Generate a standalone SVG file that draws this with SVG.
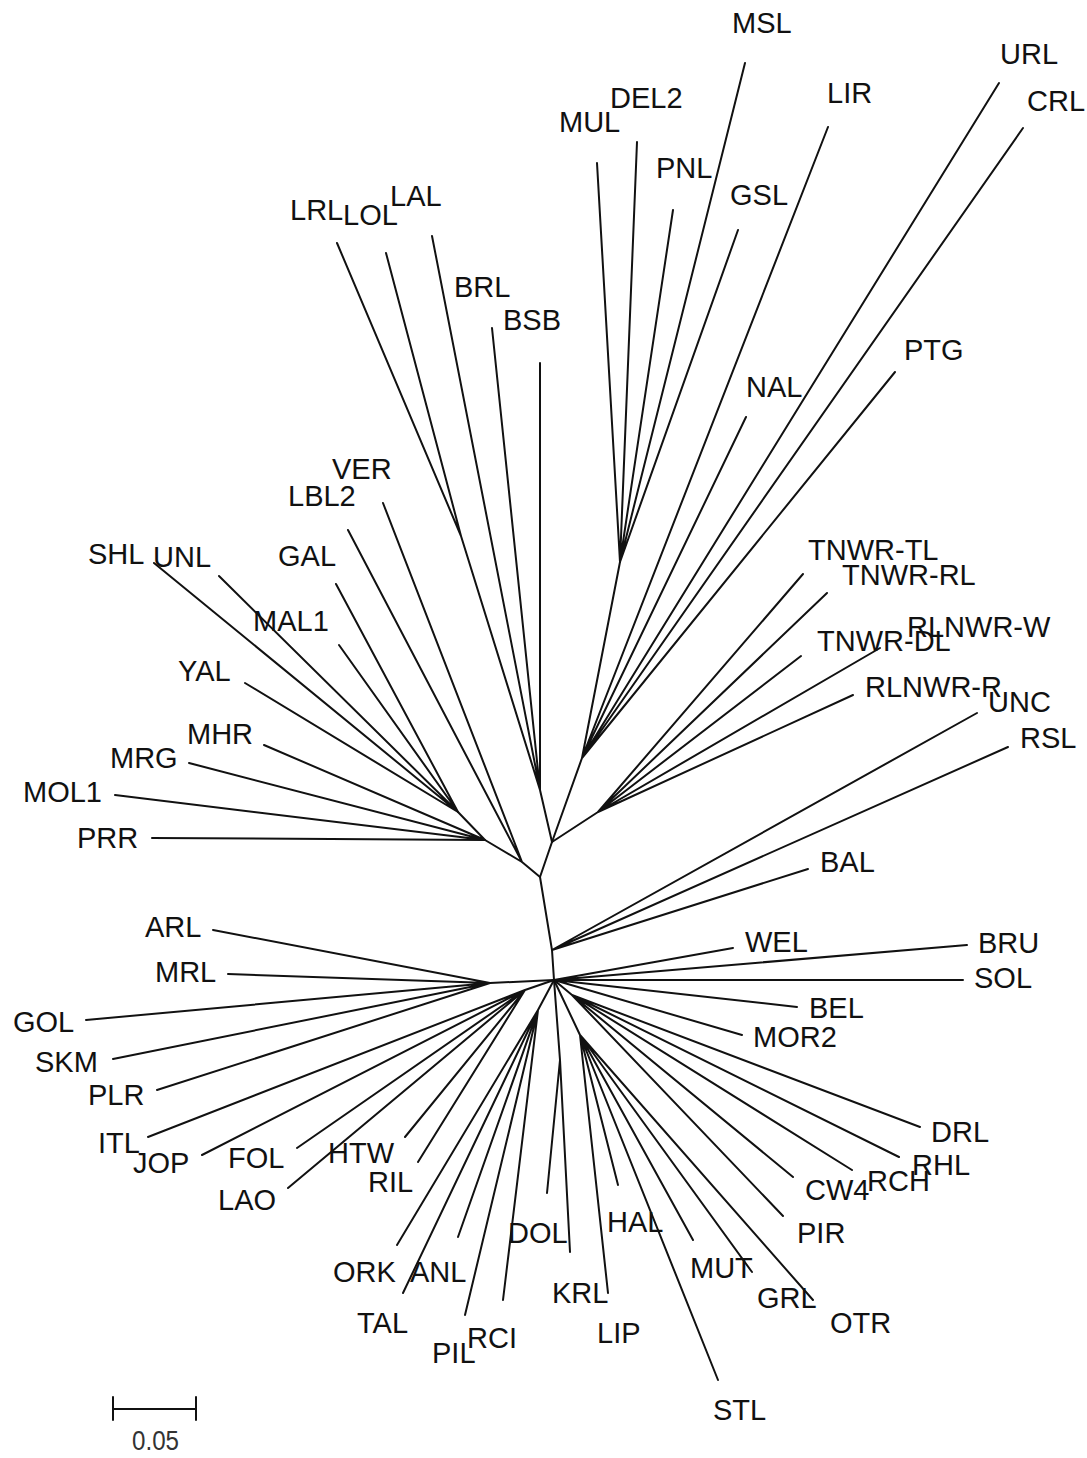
<svg xmlns="http://www.w3.org/2000/svg" width="1087" height="1458" viewBox="0 0 1087 1458">
<style>
.e{stroke:#111;stroke-width:2;fill:none;stroke-linecap:round}
text{font-family:"Liberation Sans",Arial,sans-serif;font-size:29px;fill:#111}
.sc{font-size:28px;fill:#333}
</style>
<rect width="1087" height="1458" fill="#fff"/>
<g id="connectors" class="e">
<path d="M552,842L540,877L552,950L554,980"/>
<path d="M552,842L540,790M540,790L540,363M540,790L492,328M540,790L432,236M540,790L461,536M461,536L337,243M461,536L386,253"/>
<path d="M552,842L582,758M582,758L620,562M582,758L828,127M582,758L746,417M582,758L999,83M582,758L1023,128M582,758L895,372"/>
<path d="M620,562L597,163M620,562L637,142M620,562L673,210M620,562L745,63M620,562L738,230"/>
<path d="M552,842L598,812M598,812L803,574M598,812L827,593M598,812L801,656M598,812L880,648M598,812L853,695"/>
<path d="M540,877L522,862M522,862L383,503M522,862L348,530M522,862L485,840"/>
<path d="M485,840L152,838M485,840L115,795M485,840L189,763M485,840L264,745M485,840L458,812"/>
<path d="M458,812L154,563M458,812L219,576M458,812L245,683M458,812L339,645M458,812L336,584"/>
<path d="M552,950L808,869M552,950L1008,747M552,950L977,713"/>
<path d="M554,980L733,948M554,980L967,945M554,980L963,980M554,980L797,1007M554,980L742,1035"/>
<path d="M554,980L572,995M572,995L920,1127M572,995L899,1157M572,995L852,1170M572,995L793,1177M572,995L783,1216"/>
<path d="M554,980L580,1035M580,1035L693,1240M580,1035L752,1272M580,1035L813,1300M580,1035L618,1185M580,1035L608,1293M580,1035L718,1380"/>
<path d="M554,980L560,1060M560,1060L547,1193M560,1060L570,1252"/>
<path d="M554,980L538,1010M538,1010L397,1245M538,1010L403,1293M538,1010L458,1237M538,1010L465,1315M538,1010L503,1300"/>
<path d="M554,980L525,990M525,990L148,1137M525,990L202,1155M525,990L297,1148M525,990L288,1188M525,990L405,1137M525,990L418,1162"/>
<path d="M554,980L490,983M490,983L213,930M490,983L228,974M490,983L86,1020M490,983L113,1059M490,983L157,1090"/>
</g>
<g id="MSL"><text x="732" y="33">MSL</text></g>
<g id="MUL"><text x="559" y="132">MUL</text></g>
<g id="DEL2"><text x="610" y="108">DEL2</text></g>
<g id="PNL"><text x="656" y="178">PNL</text></g>
<g id="GSL"><text x="730" y="205">GSL</text></g>
<g id="LIR"><text x="827" y="103">LIR</text></g>
<g id="URL"><text x="1000" y="64">URL</text></g>
<g id="CRL"><text x="1027" y="111">CRL</text></g>
<g id="LRL"><text x="290" y="220">LRL</text></g>
<g id="LOL"><text x="343" y="225">LOL</text></g>
<g id="LAL"><text x="390" y="206">LAL</text></g>
<g id="BRL"><text x="454" y="297">BRL</text></g>
<g id="BSB"><text x="503" y="330">BSB</text></g>
<g id="NAL"><text x="746" y="397">NAL</text></g>
<g id="PTG"><text x="904" y="360">PTG</text></g>
<g id="VER"><text x="332" y="479">VER</text></g>
<g id="LBL2"><text x="288" y="506">LBL2</text></g>
<g id="SHL"><text x="88" y="564">SHL</text></g>
<g id="UNL"><text x="153" y="567">UNL</text></g>
<g id="GAL"><text x="278" y="566">GAL</text></g>
<g id="MAL1"><text x="253" y="631">MAL1</text></g>
<g id="YAL"><text x="178" y="681">YAL</text></g>
<g id="MHR"><text x="187" y="744">MHR</text></g>
<g id="MRG"><text x="110" y="768">MRG</text></g>
<g id="MOL1"><text x="23" y="802">MOL1</text></g>
<g id="PRR"><text x="77" y="848">PRR</text></g>
<g id="TNWR-TL"><text x="808" y="560">TNWR-TL</text></g>
<g id="TNWR-RL"><text x="842" y="585">TNWR-RL</text></g>
<g id="RLNWR-W"><text x="907" y="637">RLNWR-W</text></g>
<g id="TNWR-DL"><text x="817" y="651">TNWR-DL</text></g>
<g id="RLNWR-R"><text x="865" y="697">RLNWR-R</text></g>
<g id="UNC"><text x="988" y="712">UNC</text></g>
<g id="RSL"><text x="1020" y="748">RSL</text></g>
<g id="BAL"><text x="820" y="872">BAL</text></g>
<g id="WEL"><text x="745" y="952">WEL</text></g>
<g id="BRU"><text x="978" y="953">BRU</text></g>
<g id="SOL"><text x="974" y="988">SOL</text></g>
<g id="BEL"><text x="809" y="1018">BEL</text></g>
<g id="MOR2"><text x="753" y="1047">MOR2</text></g>
<g id="DRL"><text x="931" y="1142">DRL</text></g>
<g id="RHL"><text x="912" y="1175">RHL</text></g>
<g id="RCH"><text x="867" y="1191">RCH</text></g>
<g id="CW4"><text x="805" y="1200">CW4</text></g>
<g id="PIR"><text x="797" y="1243">PIR</text></g>
<g id="MUT"><text x="690" y="1278">MUT</text></g>
<g id="GRL"><text x="757" y="1308">GRL</text></g>
<g id="OTR"><text x="830" y="1333">OTR</text></g>
<g id="HAL"><text x="607" y="1232">HAL</text></g>
<g id="LIP"><text x="597" y="1343">LIP</text></g>
<g id="STL"><text x="713" y="1420">STL</text></g>
<g id="HTW"><text x="328" y="1163">HTW</text></g>
<g id="RIL"><text x="368" y="1192">RIL</text></g>
<g id="ORK"><text x="333" y="1282">ORK</text></g>
<g id="ANL"><text x="410" y="1282">ANL</text></g>
<g id="TAL"><text x="357" y="1333">TAL</text></g>
<g id="PIL"><text x="432" y="1363">PIL</text></g>
<g id="RCI"><text x="467" y="1348">RCI</text></g>
<g id="DOL"><text x="508" y="1243">DOL</text></g>
<g id="KRL"><text x="552" y="1303">KRL</text></g>
<g id="ARL"><text x="145" y="937">ARL</text></g>
<g id="MRL"><text x="155" y="982">MRL</text></g>
<g id="GOL"><text x="13" y="1032">GOL</text></g>
<g id="SKM"><text x="35" y="1072">SKM</text></g>
<g id="PLR"><text x="88" y="1105">PLR</text></g>
<g id="ITL"><text x="98" y="1153">ITL</text></g>
<g id="JOP"><text x="133" y="1173">JOP</text></g>
<g id="FOL"><text x="228" y="1168">FOL</text></g>
<g id="LAO"><text x="218" y="1210">LAO</text></g>
<g id="scale-bar">
<path class="e" d="M113,1409H196M113,1397V1420M196,1397V1420"/>
<text class="sc" x="132" y="1450" textLength="47" lengthAdjust="spacingAndGlyphs">0.05</text>
</g>
</svg>
